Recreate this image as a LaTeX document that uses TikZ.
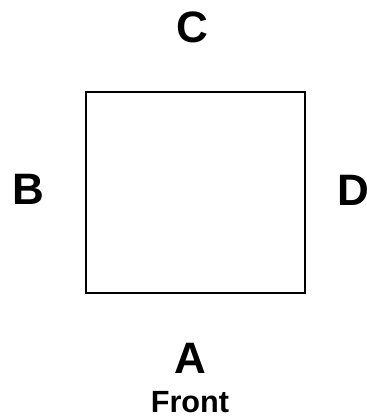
\documentclass[tikz,border=0pt]{standalone}
\usepackage{fontspec}
\setmainfont{Liberation Sans}

\tikzset{every picture/.style={line width=0.75pt}}
\tikzset{
  side/.style={inner sep=0pt, font=\fontsize{33}{33}\selectfont\bfseries},
  caption/.style={inner sep=0pt, font=\fontsize{23}{23}\selectfont\bfseries}
}

\begin{document}
\begin{tikzpicture}[x=0.75pt,y=0.75pt,yscale=-1,xscale=1]
\useasboundingbox (0,0) rectangle (367,419); %set diagram size 367 x 419

% Square
\node (box) [draw, line width=1.5pt, minimum width=219*0.75pt, minimum height=201*0.75pt, inner sep=0pt] at (196,192.5) {};

% Text Node
\node (C) [side] at (192,27) {C};
% Text Node
\node (B) [side] at (28,189) {B};
% Text Node
\node (D) [side, anchor=west] at (336.5,190) {D};
% Text Node
\node (A) [side] at (190,358) {A};
% Text Node
\node (front) [caption] at (190,402) {Front};

\end{tikzpicture}
\end{document}
